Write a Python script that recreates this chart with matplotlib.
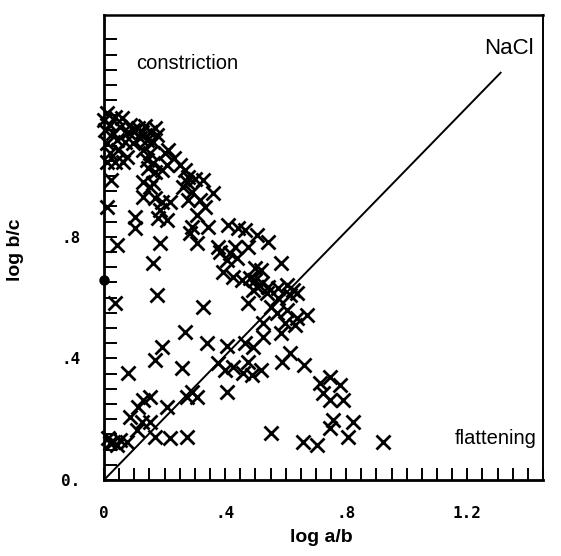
import matplotlib
matplotlib.use("Agg")
import matplotlib.pyplot as plt

# ---- data (log a/b, log b/c) ----
upper_x = [0.01, 0.036, 0.06, 0.003, 0.03, 0.053, 0.079, 0.096, 0.126, 0.152, 0.175, 0.119, 0.142, 0.162,
           0.01, 0.043, 0.07, 0.096, 0.02, 0.046, 0.076, 0.01, 0.036, 0.063, 0.129, 0.152, 0.142, 0.162,
           0.202, 0.212, 0.232, 0.209, 0.192, 0.252, 0.268, 0.146, 0.169, 0.278, 0.301, 0.328, 0.023,
           0.129, 0.162, 0.152, 0.262, 0.275, 0.291, 0.361, 0.129, 0.169, 0.192, 0.219, 0.278, 0.318,
           0.334, 0.185, 0.01, 0.103, 0.179, 0.209, 0.308, 0.291, 0.344, 0.103, 0.411, 0.444, 0.467,
           0.285, 0.043, 0.185, 0.308, 0.377, 0.434, 0.477, 0.507, 0.543,
           0.0, 0.02, 0.086, 0.113, 0.136, 0.169]
upper_y = [1.207, 1.194, 1.191, 1.151, 1.141, 1.161, 1.145, 1.151, 1.145, 1.145, 1.135, 1.125, 1.118, 1.112,
           1.109, 1.118, 1.112, 1.109, 1.076, 1.086, 1.063, 1.046, 1.046, 1.046, 1.086, 1.076, 1.053, 1.043,
           1.076, 1.086, 1.059, 1.036, 1.020, 1.036, 1.020, 1.026, 1.013, 0.997, 0.990, 0.987, 0.987,
           0.980, 0.977, 0.964, 0.964, 0.980, 0.947, 0.944, 0.931, 0.928, 0.914, 0.914, 0.921, 0.921,
           0.898, 0.888, 0.898, 0.865, 0.862, 0.855, 0.872, 0.832, 0.832, 0.829, 0.839, 0.829, 0.822,
           0.813, 0.773, 0.780, 0.780, 0.766, 0.766, 0.766, 0.806, 0.783,
           1.184, 1.168, 1.168, 1.158, 1.164, 1.158]

middle_x = [0.384, 0.417, 0.440, 0.162, 0.407, 0.394, 0.427, 0.457, 0.483, 0.517, 0.500, 0.583, 0.500,
            0.523, 0.507, 0.540, 0.543, 0.576, 0.606, 0.623, 0.639, 0.493, 0.576, 0.616, 0.474, 0.550,
            0.573, 0.606, 0.639, 0.672, 0.599, 0.526, 0.632, 0.036, 0.175, 0.328, 0.268, 0.192, 0.169,
            0.341, 0.079, 0.258, 0.407, 0.377, 0.401, 0.407, 0.467, 0.493, 0.474, 0.490, 0.517, 0.526,
            0.583, 0.589, 0.616, 0.659, 0.427, 0.460]
middle_y = [0.750, 0.747, 0.730, 0.714, 0.724, 0.684, 0.668, 0.658, 0.664, 0.691, 0.697, 0.714, 0.658,
            0.648, 0.635, 0.615, 0.635, 0.632, 0.641, 0.625, 0.615, 0.625, 0.599, 0.609, 0.582, 0.569,
            0.549, 0.559, 0.533, 0.543, 0.516, 0.516, 0.510, 0.582, 0.609, 0.569, 0.487, 0.438, 0.395,
            0.451, 0.352, 0.368, 0.441, 0.385, 0.362, 0.289, 0.451, 0.438, 0.388, 0.345, 0.362, 0.470,
            0.484, 0.388, 0.418, 0.378, 0.372, 0.352]

lower_x = [0.715, 0.748, 0.781, 0.722, 0.748, 0.788, 0.758, 0.748, 0.824, 0.805, 0.656, 0.705, 0.921, 0.550,
           0.291, 0.308, 0.275, 0.129, 0.152, 0.086, 0.113, 0.209, 0.126, 0.152, 0.169, 0.219, 0.275,
           0.109, 0.013, 0.030, 0.053, 0.076, 0.020, 0.043]
lower_y = [0.319, 0.339, 0.313, 0.286, 0.263, 0.263, 0.197, 0.171, 0.191, 0.141, 0.125, 0.115, 0.125, 0.155,
           0.289, 0.273, 0.273, 0.263, 0.273, 0.207, 0.240, 0.240, 0.191, 0.191, 0.141, 0.138, 0.141,
           0.164, 0.138, 0.125, 0.132, 0.125, 0.122, 0.115]

dot_x = [0.0]
dot_y = [0.658]

nacl_x = [0.0, 1.31]
nacl_y = [0.0, 1.34]

xtick_vals = [0.0, 0.4, 0.8, 1.2]
xtick_labels = ["0", ".4", ".8", "1.2"]
ytick_vals = [0.0, 0.4, 0.8]
ytick_labels = ["0.", ".4", ".8"]

# ---- figure ----
fig = plt.figure(figsize=(5.61, 5.56), dpi=100)
ax = fig.add_axes([104 / 561, 1 - 480 / 556, (543 - 104) / 561, (480 - 15) / 556])
ax.set_xlim(0, 1.446)
ax.set_ylim(0, 1.53)

xs = upper_x + middle_x + lower_x
ys = upper_y + middle_y + lower_y
ax.plot(xs, ys, linestyle="none", marker="x", markersize=10, markeredgewidth=2.0,
        color="black", clip_on=False)
ax.plot(dot_x, dot_y, linestyle="none", marker="o", markersize=6.5, color="black", clip_on=False, zorder=5)
ax.plot(nacl_x, nacl_y, color="black", linewidth=1.4)

for side, lw in (("left", 2.0), ("bottom", 2.0), ("top", 1.8), ("right", 1.4)):
    ax.spines[side].set_linewidth(lw)

minor = [i * 0.05 for i in range(0, 30)]
ax.set_xticks(minor, minor=True)
ax.set_yticks(minor, minor=True)
ax.set_xticks(xtick_vals)
ax.set_yticks(ytick_vals)
ax.set_xticklabels(xtick_labels)
ax.set_yticklabels(ytick_labels)
ax.tick_params(axis="both", which="both", direction="in", length=9, width=1.4, color="black")
ax.tick_params(axis="x", which="major", pad=19, labelsize=11.5)
ax.tick_params(axis="y", which="major", pad=17, labelsize=11.5)
for lab in ax.get_xticklabels() + ax.get_yticklabels():
    lab.set_family("DejaVu Sans Mono")
    lab.set_fontweight("bold")

ax.text(0.275, 1.372, "constriction", ha="center", va="center", fontsize=14.5,
        family="Liberation Sans")
ax.text(1.338, 1.421, "NaCl", ha="center", va="center", fontsize=16, family="Liberation Sans")
ax.text(1.293, 0.135, "flattening", ha="center", va="center", fontsize=14.5, family="Liberation Sans")

fig.text(321 / 561, 1 - 537 / 556, "log a/b", ha="center", va="center", fontsize=14,
         fontweight="bold", family="Liberation Sans")
fig.text(16 / 561, 1 - 250 / 556, "log b/c", ha="center", va="center", rotation=90, fontsize=14,
         fontweight="bold", family="Liberation Sans")

fig.savefig("out.png", dpi=100)
